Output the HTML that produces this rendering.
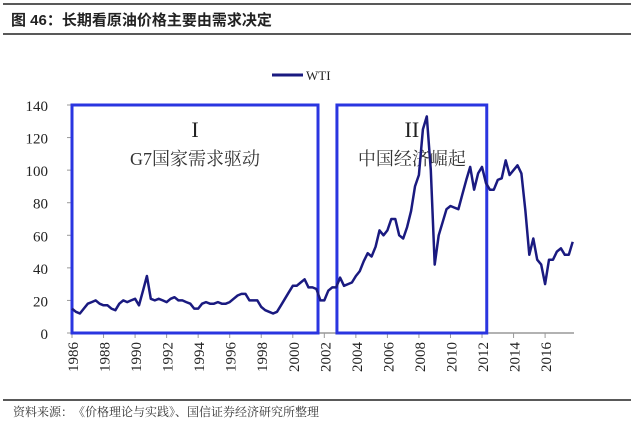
<!DOCTYPE html>
<html><head><meta charset="utf-8"><style>
body{margin:0;background:#fff;width:634px;height:425px;overflow:hidden;font-family:"Liberation Serif","Noto Serif CJK SC",serif}
svg{display:block}
</style></head><body>
<svg width="634" height="425" xmlns="http://www.w3.org/2000/svg">
<line x1="3" y1="4" x2="631" y2="4" stroke="#222" stroke-width="1.5"/>
<text x="11" y="25" font-family="'Liberation Sans','Noto Sans CJK SC',sans-serif" font-weight="bold" font-size="15" fill="#222">图 46：长期看原油价格主要由需求决定</text>
<line x1="3" y1="34" x2="631" y2="34" stroke="#222" stroke-width="1.5"/>
<g>
<line x1="272" y1="75" x2="303" y2="75" stroke="#1a1a80" stroke-width="3"/>
<text x="306" y="80" font-size="13" fill="#222">WTI</text>
</g>
<g id="axes"></g>
<g id="boxes"></g>
<g id="series"></g>
<line x1="3" y1="400" x2="631" y2="400" stroke="#222" stroke-width="1.5"/>
<text x="13" y="416" font-size="12" fill="#333" font-family="'Noto Serif CJK SC',serif">资料来源：　《价格理论与实践》、国信证券经济研究所整理</text>
</svg>
<script>
const yTicks=[0,20,40,60,80,100,120,140];
const xTicks=[1986,1988,1990,1992,1994,1996,1998,2000,2002,2004,2006,2008,2010,2012,2014,2016];
const startYear=1986;
const wti=[15,13,12,15, 18,19,20,18, 17,17,15,14, 18,20,19,20, 21,17,26,35, 21,20,21,20, 19,21,22,20, 20,19,18,15, 15,18,19,18, 18,19,18,18, 19,21,23,24, 24,20,20,20, 16,14,13,12, 13,17,21,25, 29,29,31,33, 28,28,27,20, 20,26,28,28, 34,29,30,31, 35,38,44,49, 47,53,63,60, 63,70,70,60, 58,65,75,90, 97,125,133,100, 42,60,68,76, 78,77,76,85, 94,102,88,98, 102,92,88,88, 94,95,106,97, 100,103,98,75, 48,58,45,42, 30,45,45,50, 52,48,48,56];
const boxes=[{x0:1986,x1:2001.6,roman:"I",label:"G7国家需求驱动"},{x0:2002.8,x1:2012.3,roman:"II",label:"中国经济崛起"}];
const X=t=>72+(t-1986)*15.77, Y=v=>333-v*228/140;
const NS="http://www.w3.org/2000/svg";
function mk(p,tag,a,txt){const e=document.createElementNS(NS,tag);for(const k in a)e.setAttribute(k,a[k]);if(txt!=null)e.textContent=txt;document.getElementById(p).appendChild(e);return e;}
let e=mk("axes","line",{x1:72,y1:Y(0),x2:574,y2:Y(0),stroke:"#999","stroke-width":1.5});


e=mk("axes","line",{x1:72,y1:Y(0),x2:72,y2:Y(140),stroke:"#999","stroke-width":1});


yTicks.forEach(v=>{
 mk("axes","line",{x1:67,y1:Y(v),x2:72,y2:Y(v),stroke:"#999"});
 const t=mk("axes","text",{x:48,y:Y(v)+6,"text-anchor":"end","font-size":15,fill:"#222"},v);
 
 
});
xTicks.forEach(v=>{
 const x=X(v);
 mk("axes","line",{x1:x,y1:Y(0),x2:x,y2:Y(0)+5,stroke:"#999"});
 const t=mk("axes","text",{x:0,y:0,"text-anchor":"end","font-size":15,fill:"#222",transform:`translate(${x+6},${Y(0)+9}) rotate(-90)`},v);
 
 
});
boxes.forEach((b,i)=>{
 const r=mk("boxes","rect",{x:X(b.x0),y:Y(140),width:X(b.x1)-X(b.x0),height:Y(0)-Y(140),fill:"none",stroke:"#2a35e0","stroke-width":3});
 
 
 const cx=(X(b.x0)+X(b.x1))/2;
 const t1=mk("boxes","text",{x:cx,y:137,"text-anchor":"middle","font-size":22,fill:"#222"},b.roman);
 
 
 const t2=mk("boxes","text",{x:cx,y:165,"text-anchor":"middle","font-size":18,fill:"#333","font-family":"'Liberation Serif','Noto Serif CJK SC',serif"},b.label);
 
 
});
const pts=wti.map((v,i)=>X(startYear+i*0.25).toFixed(1)+","+Y(v).toFixed(1)).join(" ");
const pl=mk("series","polyline",{points:pts,fill:"none",stroke:"#1a1a80","stroke-width":2.5,"stroke-linejoin":"round"});


</script>
</body></html>
